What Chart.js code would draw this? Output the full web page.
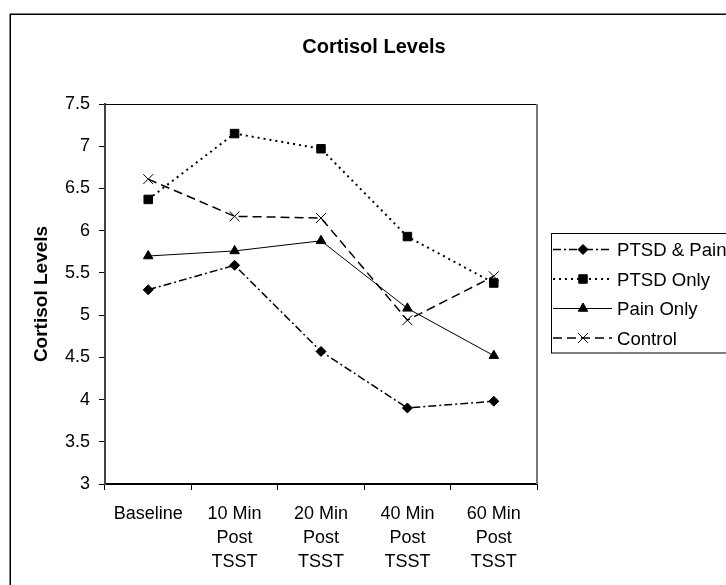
<!DOCTYPE html>
<html>
<head>
<meta charset="utf-8">
<script src="https://cdn.jsdelivr.net/npm/chart.js@4"></script>
<style>
  html, body { margin: 0; padding: 0; background: #fff; overflow: hidden; }
  #wrap { width: 726px; height: 585px; }
</style>
</head>
<body>
<div id="wrap"><canvas id="cortisolChart" width="726" height="585"></canvas></div>
<script>
// Chart data
const categories = [
    'Baseline',
    ['10 Min', 'Post', 'TSST'],
    ['20 Min', 'Post', 'TSST'],
    ['40 Min', 'Post', 'TSST'],
    ['60 Min', 'Post', 'TSST']
];
const seriesNames = ['PTSD & Pain', 'PTSD Only', 'Pain Only', 'Control'];
const ptsdPain = [5.30, 5.59, 4.57, 3.90, 3.98];
const ptsdOnly = [6.37, 7.15, 6.97, 5.93, 5.38];
const painOnly = [5.70, 5.76, 5.88, 5.08, 4.52];
const control  = [6.61, 6.17, 6.15, 4.94, 5.46];
const yTickLabels = ['3', '3.5', '4', '4.5', '5', '5.5', '6', '6.5', '7', '7.5'];

const FONT = '"Liberation Sans", Arial, sans-serif';

// Frame, title, plot border and legend (Excel look)
const decorPlugin = {
    id: 'decor',
    beforeDraw(chart) {
        const ctx = chart.ctx;
        ctx.save();
        ctx.fillStyle = '#fff';
        ctx.fillRect(0, 0, chart.width, chart.height);
        ctx.strokeStyle = '#000';
        ctx.lineWidth = 1.5;
        ctx.strokeRect(10.25, 14.25, 900, 900);
        ctx.restore();
    },
    beforeDatasetsDraw(chart) {
        const ctx = chart.ctx;
        const a = chart.chartArea;
        ctx.save();
        ctx.strokeStyle = '#000';
        ctx.lineWidth = 1;
        ctx.beginPath();
        ctx.moveTo(a.left, a.top + 0.5);
        ctx.lineTo(a.right, a.top + 0.5);
        ctx.stroke();
        ctx.strokeStyle = '#777';
        ctx.lineWidth = 2;
        ctx.beginPath();
        ctx.moveTo(a.right, a.top);
        ctx.lineTo(a.right, a.bottom);
        ctx.stroke();
        ctx.restore();
    },
    afterDraw(chart) {
        const ctx = chart.ctx;
        ctx.save();

        // title
        ctx.fillStyle = '#000';
        ctx.font = 'bold 20px ' + FONT;
        ctx.textAlign = 'center';
        ctx.textBaseline = 'alphabetic';
        ctx.fillText('Cortisol Levels', 374, 53);

        // legend box
        ctx.strokeStyle = '#000';
        ctx.lineWidth = 1;
        ctx.strokeRect(551.5, 233.5, 300, 119.5);

        ctx.font = '18.6px ' + FONT;
        ctx.textAlign = 'left';
        chart.data.datasets.forEach((ds, i) => {
            const y = 249.5 + i * 29.5;
            ctx.strokeStyle = '#000';
            ctx.fillStyle = '#000';
            ctx.lineWidth = ds.borderWidth;
            ctx.setLineDash(ds.borderDash || []);
            ctx.beginPath();
            ctx.moveTo(553, y);
            ctx.lineTo(612, y);
            ctx.stroke();
            ctx.setLineDash([]);
            ctx.lineWidth = 1;
            Chart.helpers.drawPoint(ctx, {
                pointStyle: ds.pointStyle,
                radius: ds.pointRadius,
                borderWidth: 1,
                rotation: 0
            }, 583, y);
            ctx.fillText(ds.label, 617, y + 6.5);
        });
        ctx.restore();
    }
};

function makeSeries(label, values, style, radius, dash, width) {
    return {
        label: label,
        data: values,
        borderColor: '#000',
        backgroundColor: '#000',
        borderWidth: width,
        borderDash: dash,
        pointStyle: style,
        pointRadius: radius,
        pointBorderWidth: 1,
        pointBackgroundColor: '#000',
        pointBorderColor: '#000',
        tension: 0,
        fill: false
    };
}

new Chart(document.getElementById('cortisolChart'), {
    type: 'line',
    data: {
        labels: categories,
        datasets: [
            makeSeries(seriesNames[0], ptsdPain, 'rectRot', 5, [8, 3, 2, 3], 1.5),
            makeSeries(seriesNames[1], ptsdOnly, 'rect', 6, [2, 4], 2),
            makeSeries(seriesNames[2], painOnly, 'triangle', 5.5, [], 1),
            makeSeries(seriesNames[3], control, 'crossRot', 7, [9, 5], 1.5)
        ]
    },
    options: {
        responsive: false,
        animation: false,
        devicePixelRatio: 1,
        layout: { padding: { top: 104, right: 189, bottom: 0, left: 0 } },
        plugins: {
            legend: { display: false },
            title: { display: false },
            tooltip: { enabled: false }
        },
        scales: {
            x: {
                offset: true,
                grid: { offset: true, drawOnChartArea: false, drawTicks: true, tickLength: 6, color: '#000' },
                border: { color: '#000', width: 2 },
                ticks: {
                    color: '#000',
                    font: { family: FONT, size: 18, lineHeight: '24px' },
                    padding: 12,
                    maxRotation: 0,
                    autoSkip: false
                },
                afterFit: (s) => { s.height = 101; }
            },
            y: {
                min: 3,
                max: 7.5,
                ticks: {
                    stepSize: 0.5,
                    color: '#000',
                    font: { family: FONT, size: 18 },
                    padding: 9,
                    callback: (v, i) => yTickLabels[i]
                },
                grid: { drawOnChartArea: false, drawTicks: true, tickLength: 6, color: '#000' },
                border: { color: '#444', width: 2 },
                title: {
                    display: true,
                    text: 'Cortisol Levels',
                    color: '#000',
                    font: { family: FONT, size: 19, weight: 'bold' },
                    padding: { top: 30, bottom: 0 }
                },
                afterFit: (s) => { s.width = 105; }
            }
        }
    },
    plugins: [decorPlugin]
});
</script>
</body>
</html>
